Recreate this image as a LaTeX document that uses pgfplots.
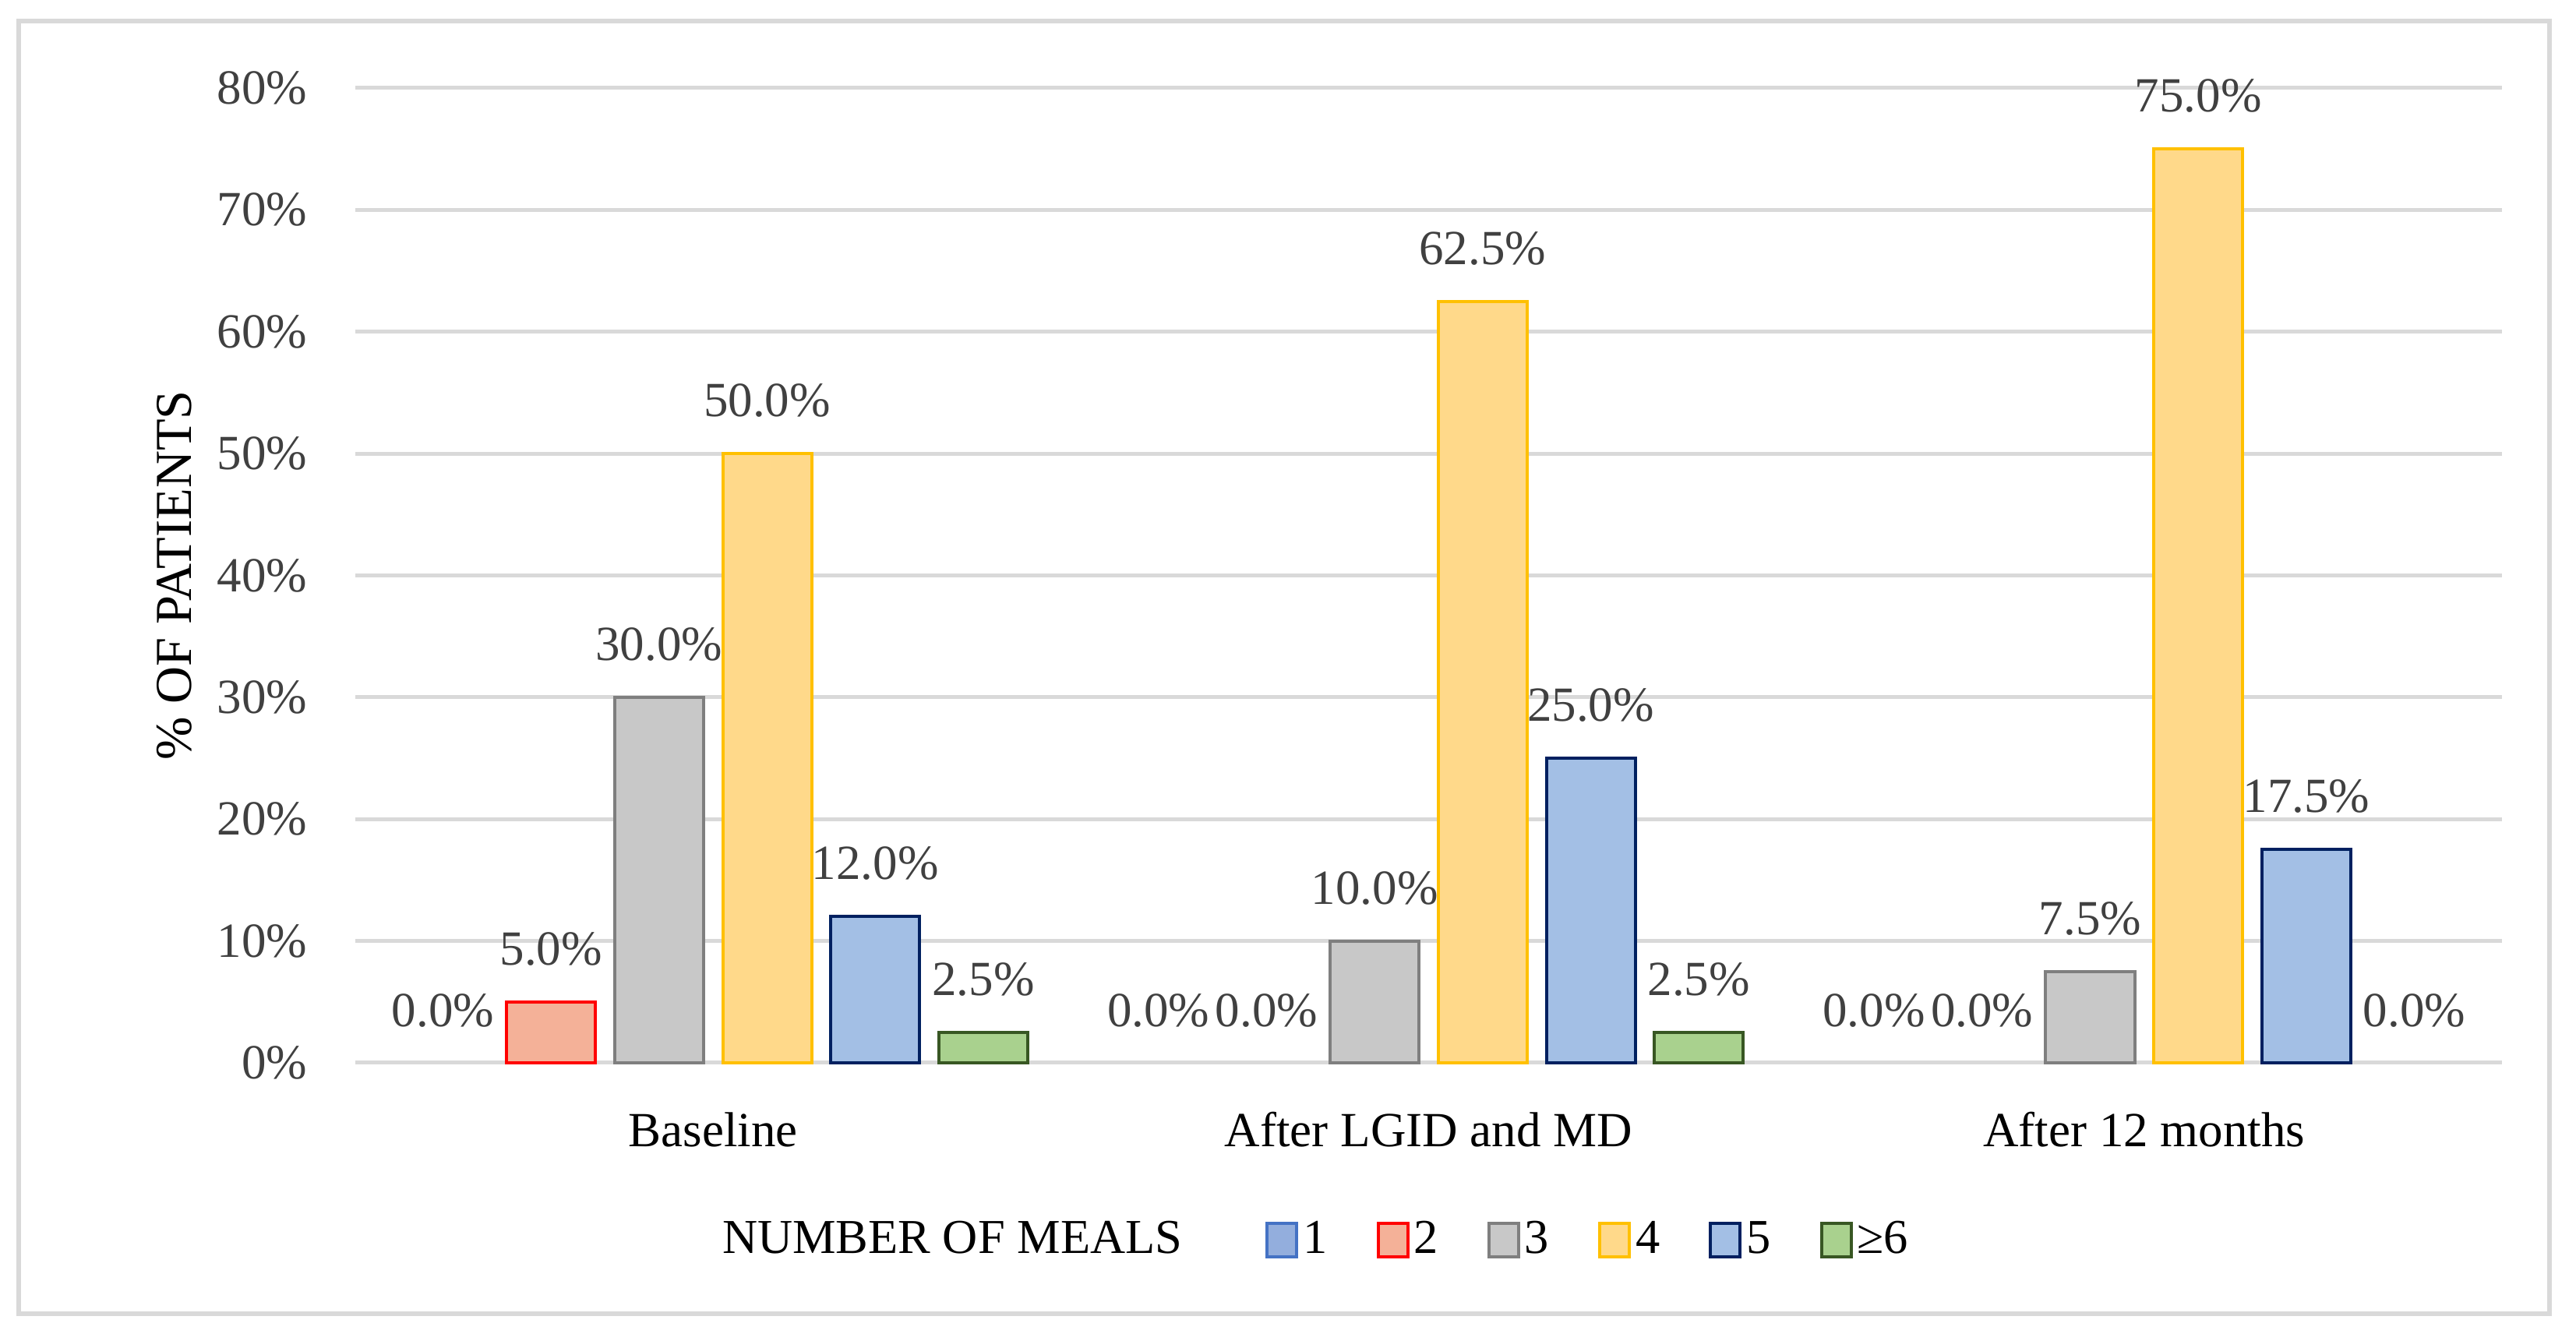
\documentclass[border=0pt]{standalone}
\usepackage{fontspec}
\setmainfont{Liberation Serif}
\usepackage{pgfplots}
\pgfplotsset{compat=1.18}
\definecolor{b1}{HTML}{4472C4}\definecolor{f1}{HTML}{93AEDD}
\definecolor{b2}{HTML}{FF0000}\definecolor{f2}{HTML}{F4B198}
\definecolor{b3}{HTML}{7F7F7F}\definecolor{f3}{HTML}{C8C8C8}
\definecolor{b4}{HTML}{FFC000}\definecolor{f4}{HTML}{FFD98A}
\definecolor{b5}{HTML}{002060}\definecolor{f5}{HTML}{A3BFE5}
\definecolor{b6}{HTML}{385723}\definecolor{f6}{HTML}{A9D18E}
\definecolor{gridc}{HTML}{D9D9D9}
\definecolor{txt}{HTML}{404040}
\newcommand{\fs}{\fontsize{12.6}{14.5}\selectfont}
\newcommand{\fl}{\fontsize{12.5}{14.5}\selectfont}
\newcommand{\fy}{\fontsize{13.3}{15}\selectfont}
\begin{document}
\begin{tikzpicture}
\path[use as bounding box] (0,0) rectangle (661.2pt,344.2pt);
\draw[gridc, line width=1.2pt] (4.8pt,7pt) rectangle (654.4pt,338.8pt);
\begin{axis}[
  at={(91.2pt,71.4pt)}, anchor=south west,
  scale only axis, width=551pt, height=250.2pt,
  xmin=-0.5, xmax=2.5, ymin=0, ymax=80,
  xtick={0,1,2}, xticklabels={Baseline, After LGID and MD, After 12 months},
  ytick={0,10,...,80},
  yticklabel={\pgfmathprintnumber{\tick}\%},
  /pgf/number format/assume math mode=true,
  ymajorgrids, grid style={gridc, line width=1pt},
  axis line style={draw=none}, major tick length=0pt,
  xticklabel style={font=\fs, text=black, anchor=center, yshift=-17.2pt},
  yticklabel style={font=\fs, text=txt, xshift=-8.8pt},
  ylabel={\% OF PATIENTS},
  every axis y label/.style={at={(axis description cs:-0.0844,0.5)}, rotate=90, anchor=center, font=\fy, text=black},
  ybar, bar width=22.8pt,
  nodes near coords={\pgfmathprintnumber[fixed,fixed zerofill,precision=1]{\pgfplotspointmeta}\%},
  every node near coord/.append style={font=\fs, text=txt, yshift=5.6pt},
  clip=false,
  legend style={at={(0.163,-0.182)}, anchor=west, draw=none, fill=none, font=\fl,
    /tikz/every even column/.append style={column sep=11.4pt}, nodes={inner sep=1.2pt}},
  legend columns=-1, legend cell align=left,
  legend image code/.code={\draw[#1] (0pt,-4.3pt) rectangle (7.6pt,4.3pt);},
]
\addlegendimage{empty legend}\addlegendentry{NUMBER OF MEALS\kern8.8pt}
\addlegendimage{draw=b1, fill=f1, line width=0.8pt}\addlegendentry{1}
\addlegendimage{draw=b2, fill=f2, line width=0.8pt}\addlegendentry{2}
\addlegendimage{draw=b3, fill=f3, line width=0.8pt}\addlegendentry{3}
\addlegendimage{draw=b4, fill=f4, line width=0.8pt}\addlegendentry{4}
\addlegendimage{draw=b5, fill=f5, line width=0.8pt}\addlegendentry{5}
\addlegendimage{draw=b6, fill=f6, line width=0.8pt}\addlegendentry{≥6}
% series 1 (all zero: labels only)
\addplot[draw=none, fill=none, bar shift=-69.35pt, forget plot] coordinates {(0,0) (1,0) (2,0)};
% series 2
\addplot[draw=b2, fill=f2, line width=0.8pt, bar shift=-41.61pt, forget plot] coordinates {(0,5)};
\addplot[draw=none, fill=none, bar shift=-41.61pt, forget plot] coordinates {(1,0) (2,0)};
% series 3
\addplot[draw=b3, fill=f3, line width=0.8pt, bar shift=-13.87pt, forget plot] coordinates {(0,30) (1,10) (2,7.5)};
% series 4
\addplot[draw=b4, fill=f4, line width=0.8pt, bar shift=13.87pt, forget plot] coordinates {(0,50) (1,62.5) (2,75)};
% series 5
\addplot[draw=b5, fill=f5, line width=0.8pt, bar shift=41.61pt, forget plot] coordinates {(0,12) (1,25) (2,17.5)};
% series 6
\addplot[draw=b6, fill=f6, line width=0.8pt, bar shift=69.35pt, forget plot] coordinates {(0,2.5) (1,2.5)};
\addplot[draw=none, fill=none, bar shift=69.35pt, forget plot] coordinates {(2,0)};
\end{axis}
\end{tikzpicture}
\end{document}
